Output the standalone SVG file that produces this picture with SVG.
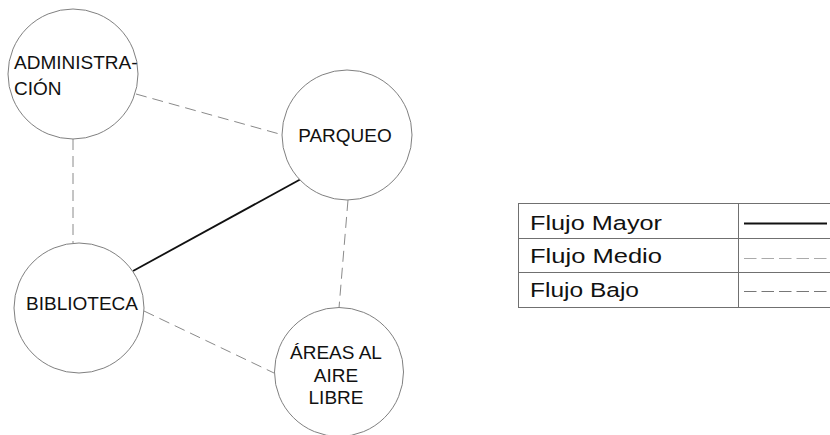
<svg xmlns="http://www.w3.org/2000/svg" width="830" height="435" viewBox="0 0 830 435">
<style>
.node{fill:#fff;stroke:#808080;stroke-width:1}
.lbl{font-family:"Liberation Sans",Arial,sans-serif;font-size:19px;fill:#111}
.dash{stroke:#8a8a8a;stroke-width:1;stroke-dasharray:11 6;fill:none}
.solid{stroke:#111;stroke-width:1.8;fill:none}
.leg{font-family:"Liberation Sans",Arial,sans-serif;font-size:20.5px;fill:#111}
.grid{stroke:#707070;stroke-width:1;fill:none}
</style>
<rect width="830" height="435" fill="#fff"/>
<g id="connectors">
<line class="dash" x1="136" y1="94" x2="283" y2="135"/>
<line class="dash" x1="73" y1="139" x2="73" y2="243"/>
<line class="solid" x1="301" y1="179" x2="133" y2="271"/>
<line class="dash" x1="348" y1="200" x2="339" y2="308"/>
<line class="dash" x1="144" y1="311" x2="274" y2="373"/>
</g>
<g id="administracion">
<circle class="node" cx="73" cy="74" r="65"/>
<text class="lbl" x="14" y="68.5">ADMINISTRA-</text>
<text class="lbl" x="14" y="95">CIÓN</text>
</g>
<g id="parqueo">
<circle class="node" cx="347" cy="135" r="65"/>
<text class="lbl" x="345" y="141.5" text-anchor="middle">PARQUEO</text>
</g>
<g id="biblioteca">
<circle class="node" cx="79" cy="308" r="65"/>
<text class="lbl" x="82" y="310" text-anchor="middle">BIBLIOTECA</text>
</g>
<g id="areas">
<circle class="node" cx="339" cy="372" r="64.5"/>
<text class="lbl" x="336" y="359" text-anchor="middle">ÁREAS AL</text>
<text class="lbl" x="336" y="381.5" text-anchor="middle">AIRE</text>
<text class="lbl" x="336" y="404" text-anchor="middle">LIBRE</text>
</g>
<g id="legend">
<rect class="grid" x="518.5" y="203.5" width="330" height="104"/>
<line class="grid" x1="518.5" y1="238.5" x2="830" y2="238.5"/>
<line class="grid" x1="518.5" y1="272.5" x2="830" y2="272.5"/>
<line class="grid" x1="738.5" y1="203.5" x2="738.5" y2="307.5"/>
<text class="leg" x="530" y="229.5" textLength="132" lengthAdjust="spacingAndGlyphs">Flujo Mayor</text>
<text class="leg" x="530" y="263" textLength="132" lengthAdjust="spacingAndGlyphs">Flujo Medio</text>
<text class="leg" x="530" y="297" textLength="109" lengthAdjust="spacingAndGlyphs">Flujo Bajo</text>
<line x1="744" y1="223.5" x2="827" y2="223.5" stroke="#111" stroke-width="1.8"/>
<line x1="744" y1="258.5" x2="830" y2="258.5" stroke="#aaa" stroke-width="1" stroke-dasharray="12.5 5"/>
<line x1="744" y1="291.5" x2="830" y2="291.5" stroke="#777" stroke-width="1" stroke-dasharray="12.5 5"/>
</g>
</svg>
